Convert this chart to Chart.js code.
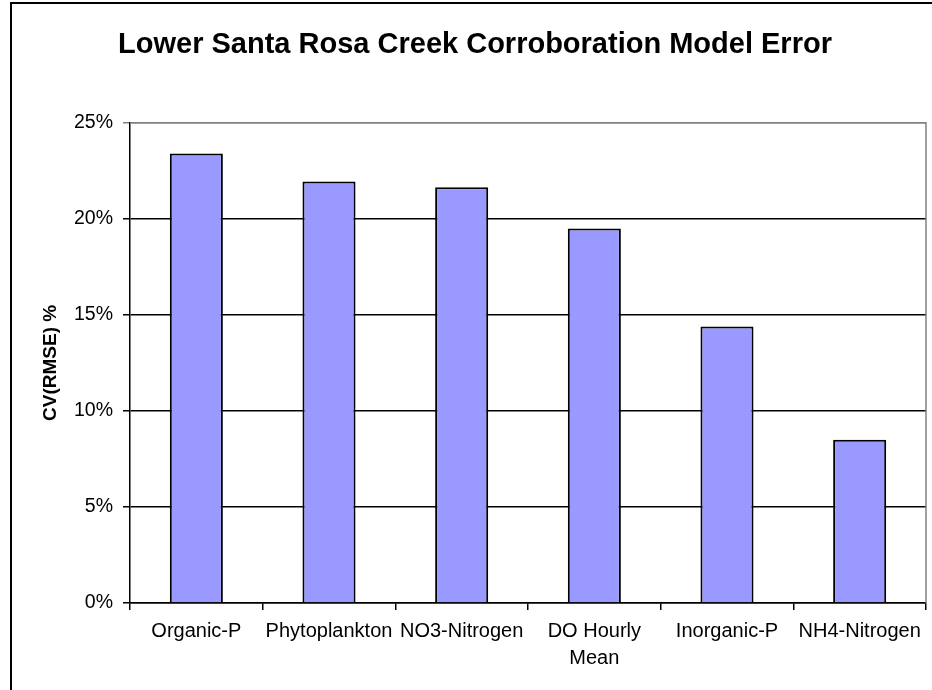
<!DOCTYPE html>
<html>
<head>
<meta charset="utf-8">
<script src="https://cdn.jsdelivr.net/npm/chart.js@4.4.1/dist/chart.umd.min.js"></script>
<style>
  html, body { margin: 0; padding: 0; background: #fff; }
  #wrap { width: 932px; height: 690px; }
</style>
</head>
<body>
<div id="wrap"><canvas id="error-canvas" width="932" height="690"></canvas></div>
<script>
const categories = ['Organic-P', 'Phytoplankton', 'NO3-Nitrogen', ['DO Hourly', 'Mean'], 'Inorganic-P', 'NH4-Nitrogen'];
const cvRmse = [23.4, 21.95, 21.65, 19.5, 14.4, 8.5];
const yTicks = [0, 5, 10, 15, 20, 25];

// page frame + grey plot border on top/right, like the Excel original
const framePlugin = {
    id: 'frame',
    beforeDraw(chart) {
        let ctx = chart.ctx;
        ctx.save();
        ctx.fillStyle = '#fff';
        ctx.fillRect(0, 0, chart.width, chart.height);
        ctx.strokeStyle = '#000';
        ctx.lineWidth = 2;
        ctx.strokeRect(11, 3, 1000, 1000);
        ctx.restore();
    },
    afterDraw(chart) {
        let a = chart.chartArea;
        let ctx = chart.ctx;
        ctx.save();
        ctx.strokeStyle = '#808080';
        ctx.lineWidth = 1.5;
        ctx.beginPath();
        ctx.moveTo(a.left, a.top);
        ctx.lineTo(a.right, a.top);
        ctx.lineTo(a.right, a.bottom);
        ctx.stroke();
        ctx.restore();
    }
};

let errCtx = document.getElementById('error-canvas').getContext('2d');

let errorBar = new Chart(errCtx, {
    type: 'bar',
    data: {
        labels: categories,
        datasets: [{
            data: cvRmse,
            backgroundColor: '#9999FF',
            borderColor: '#000',
            borderWidth: 2,
            categoryPercentage: 1,
            barPercentage: 0.4
        }]
    },
    options: {
        responsive: false,
        animation: false,
        layout: {
            padding: { left: 24, right: 6, top: 0, bottom: 0 }
        },
        plugins: {
            legend: { display: false },
            tooltip: { enabled: false },
            title: {
                display: true,
                text: 'Lower Santa Rosa Creek Corroboration Model Error',
                color: '#000',
                font: { family: 'Liberation Sans', size: 29, weight: 'bold' },
                padding: { top: 28, bottom: 60 }
            }
        },
        scales: {
            x: {
                grid: {
                    offset: true,
                    drawOnChartArea: false,
                    drawTicks: true,
                    tickLength: 7,
                    color: '#000',
                    lineWidth: 1.5
                },
                border: { color: '#000', width: 1.5 },
                ticks: {
                    color: '#000',
                    maxRotation: 0,
                    autoSkip: false,
                    padding: 8,
                    font: { family: 'Liberation Sans', size: 20, lineHeight: 1.35 }
                },
                afterFit(s) { s.height = 87; }
            },
            y: {
                min: 0,
                max: 25,
                afterBuildTicks(s) { s.ticks = yTicks.map(v => ({ value: v })); },
                grid: {
                    color: ctx => ctx.tick && ctx.tick.value === 25 ? '#808080' : '#000',
                    lineWidth: 1.5,
                    tickLength: 7
                },
                border: { color: '#000', width: 1.5 },
                ticks: {
                    color: '#000',
                    padding: 10,
                    font: { family: 'Liberation Sans', size: 19.5 },
                    callback: v => v + '%'
                },
                title: {
                    display: true,
                    text: 'CV(RMSE) %',
                    color: '#000',
                    font: { family: 'Liberation Sans', size: 19, weight: 'bold' },
                    padding: { top: 15, bottom: 0 }
                },
                afterFit(s) { s.width = 106; }
            }
        }
    },
    plugins: [framePlugin]
});
</script>
</body>
</html>
